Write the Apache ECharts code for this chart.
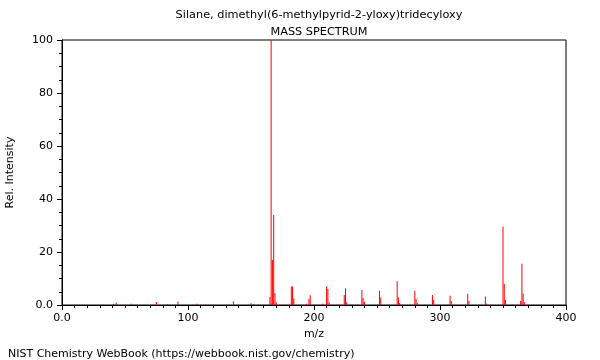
<!DOCTYPE html>
<html><head><meta charset="utf-8">
<script src="https://cdn.jsdelivr.net/npm/echarts@6/dist/echarts.min.js"></script>
<style>html,body{margin:0;padding:0;background:#fff}#c{width:600px;height:360px}</style>
</head><body><div id="c"></div>
<script>
const titleText = "Silane, dimethyl(6-methylpyrid-2-yloxy)tridecyloxy";
const subtitleText = "MASS SPECTRUM";
const footerText = "NIST Chemistry WebBook (https://webbook.nist.gov/chemistry)";
const mz = [41,43,55,75,84,92,107,136,150,152,165,166,167,168,169,170,182,183,184,194,196,197,207,210,211,212,224,225,226,238,239,240,252,253,266,267,268,280,281,282,294,295,308,309,322,323,336,337,350,351,352,364,365,366,367];
const intensity = [0.5,0.9,0.5,1.1,0.4,1.3,0.5,1.4,0.7,0.4,3,100,17,34,4.5,1,7,7,2.5,0.5,2.4,3.7,0.5,7,6,1,3.8,6.3,1,5.7,2.6,1.2,5.4,2.8,9,2.8,0.8,5.3,2.4,0.8,3.8,1.9,3.5,1.5,4.2,1.5,3.2,0.5,29.5,8,2,1.5,15.6,4.3,1];
const xTicks = [0,100,200,300,400];
const yTicks = [0,20,40,60,80,100];

const font = "DejaVu Sans";
const chart = echarts.init(document.getElementById('c'), null, {renderer:'canvas'});
const fmt = v => v === 0 ? "0.0" : String(v);
chart.setOption({
  animation:false,
  backgroundColor:'#fff',
  textStyle:{fontFamily:font},
  title:[
    {text:titleText, left:314, top:5, textAlign:'center', textStyle:{fontSize:11.3, fontWeight:'normal', color:'#000', fontFamily:font}},
    {text:subtitleText, left:314, top:22, textAlign:'center', textStyle:{fontSize:11.3, fontWeight:'normal', color:'#000', fontFamily:font}},
    {text:footerText, left:3, top:344, textStyle:{fontSize:11, fontWeight:'normal', color:'#000', fontFamily:font}}
  ],
  grid:{left:62, right:34, top:40, bottom:55, show:true, borderColor:'#000', borderWidth:1, backgroundColor:'transparent', containLabel:false, outerBoundsMode:'none'},
  xAxis:{type:'value', min:xTicks[0], max:xTicks[xTicks.length-1], interval:100,
    name:'m/z', nameLocation:'middle', nameGap:23, nameTextStyle:{fontSize:11, color:'#000', fontFamily:font},
    axisLine:{show:true, lineStyle:{color:'#000'}}, axisTick:{show:true, length:5, lineStyle:{color:'#000'}},
    minorTick:{show:true, splitNumber:10, length:3, lineStyle:{color:'#000'}},
    axisLabel:{fontSize:11, color:'#000', margin:8, formatter:fmt, fontFamily:font},
    splitLine:{show:false}},
  yAxis:{type:'value', min:yTicks[0], max:yTicks[yTicks.length-1], interval:20,
    name:'Rel. Intensity', nameLocation:'middle', nameGap:46, nameTextStyle:{fontSize:11, color:'#000', fontFamily:font},
    axisLine:{show:true, lineStyle:{color:'#000'}}, axisTick:{show:true, length:5, lineStyle:{color:'#000'}},
    minorTick:{show:true, splitNumber:4, length:3, lineStyle:{color:'#000'}},
    axisLabel:{fontSize:11, color:'#000', margin:9, formatter:fmt, fontFamily:font},
    splitLine:{show:false}},
  series:[{type:'bar', barWidth:1, data:mz.map((m,i)=>[m,intensity[i]]), itemStyle:{color:'#ff0000'}, silent:true}]
});
</script></body></html>
